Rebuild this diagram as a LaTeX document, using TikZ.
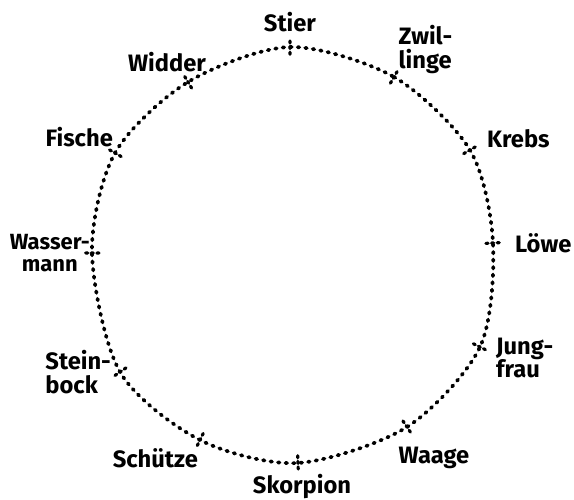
\documentclass[tikz,border=0pt]{standalone}
\usepackage{fontspec}
\setmainfont{Fira Sans}
\usetikzlibrary{positioning,calc}

\begin{document}
\begin{tikzpicture}[node distance=0.3cm,
    dots/.style={line width=2.1pt, line cap=round, dash pattern=on 0.9pt off 3.4pt},
    tick/.style={line width=1.8pt, line cap=round, dash pattern=on 1.2pt off 2pt},
    sign/.style={font=\fontsize{13.5}{13.5}\selectfont\bfseries, align=left, inner sep=1pt}]

  \useasboundingbox (-5.82,-4.9) rectangle (5.66,5.08);
  \coordinate (o) at (0,0);

  % marks on the ring
  \coordinate (stier) at (-0.02,4.14);
  \coordinate (zwil) at (2.06,3.54);
  \coordinate (krebs) at (3.58,2.08);
  \coordinate (loewe) at (4.04,0.22);
  \coordinate (jung) at (3.78,-1.86);
  \coordinate (waage) at (2.32,-3.46);
  \coordinate (skorp) at (0.14,-4.18);
  \coordinate (schuetze) at (-1.82,-3.72);
  \coordinate (stein) at (-3.42,-2.36);
  \coordinate (wasser) at (-3.98,0.02);
  \coordinate (fische) at (-3.52,2.02);
  \coordinate (widder) at (-2.06,3.44);

  \draw[dots] plot[smooth cycle] coordinates {(stier) (zwil) (krebs) (loewe) (jung) (waage)
    (skorp) (schuetze) (stein) (wasser) (fische) (widder)};
  \foreach \s in {stier,zwil,krebs,loewe,jung,waage,skorp,schuetze,stein,wasser,fische,widder}
    \draw[tick] ($(o)!0.965!(\s)$) -- ($(o)!1.035!(\s)$);

  \node[sign, above=0.25cm of stier] (lstier) {Stier};
  \node[sign, above right=0.02cm and 0.05cm of zwil] (lzwil) {Zwil-\\linge};
  \node[sign, above right=0cm and 0.3cm of krebs] (lkrebs) {Krebs};
  \node[sign, right=0.4cm of loewe] (lloewe) {Löwe};
  \node[sign, right=0.28cm of jung, yshift=-0.22cm] (ljung) {Jung-\\frau};
  \node[sign, below=0.35cm of waage, xshift=0.54cm] (lwaage) {Waage};
  \node[sign, below=0.18cm of skorp, xshift=0.08cm] (lskorp) {Skorpion};
  \node[sign, below left=0.12cm and 0cm of schuetze] (lschuetze) {Schütze};
  \node[sign, left=0.14cm of stein] (lstein) {Stein-\\bock};
  \node[sign, left=0cm of wasser, align=center, font=\fontsize{12.5}{13}\selectfont\bfseries] (lwasser) {Wasser-\\mann};
  \node[sign, above left=0.08cm and 0cm of fische] (lfische) {Fische};
  \node[sign, above=0.15cm of widder, xshift=-0.42cm] (lwidder) {Widder};
\end{tikzpicture}
\end{document}
